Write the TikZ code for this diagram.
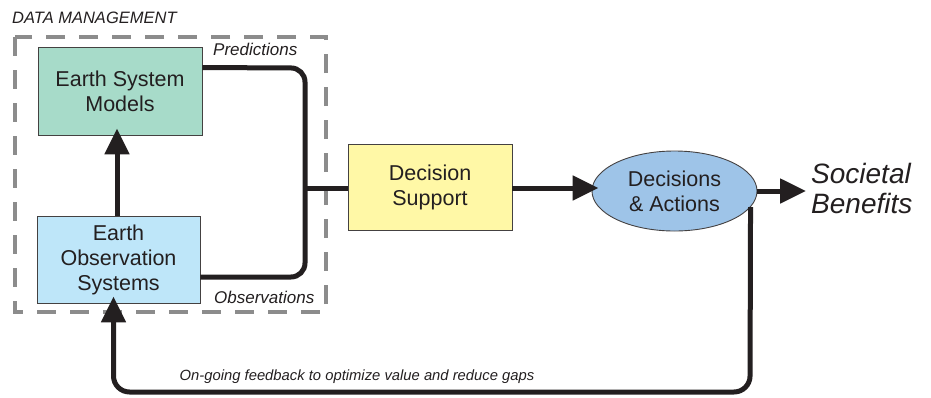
\documentclass[tikz,border=0pt]{standalone}
\usepackage{fontspec}
\setmainfont{Liberation Sans}
\usetikzlibrary{arrows.meta,shapes.geometric}
\definecolor{txt}{HTML}{231F20}
\definecolor{esmfill}{HTML}{A7DBC9}
\definecolor{eosfill}{HTML}{BEE6F9}
\definecolor{dsfill}{HTML}{FFF8A6}
\definecolor{dafill}{HTML}{9EC4E8}
\definecolor{dashgray}{HTML}{8C8C8C}
\tikzset{
  boxnode/.style={draw=txt!85, line width=0.9pt, text=txt, align=center,
    font=\fontsize{21.5}{25}\selectfont, inner sep=0pt},
  conn/.style={draw=txt, line width=5pt},
  arr/.style={-{Triangle[length=26pt,width=24pt]}, shorten >=-7pt},
  smalllabel/.style={font=\fontsize{17}{20}\selectfont\itshape, text=txt, inner sep=0pt}
}
\begin{document}
\begin{tikzpicture}[x=1pt,y=-1pt]
\useasboundingbox (0,0) rectangle (931,397);
% dashed data management frame
\draw[dashgray, line width=3.3pt, dash pattern=on 19pt off 14pt] (15,37) rectangle (326,312);
\node[anchor=base west, font=\fontsize{16.5}{19}\selectfont\itshape, text=txt, inner sep=0pt] (dm) at (12,23) {DATA MANAGEMENT};
% nodes
\node[boxnode, fill=esmfill, minimum width=164pt, minimum height=88pt] (esm) at (120,91) {Earth System\\Models};
\node[boxnode, fill=eosfill, minimum width=163pt, minimum height=87pt] (eos) at (118.5,259.5) {Earth\\Observation\\Systems};
\node[boxnode, fill=dsfill, minimum width=164pt, minimum height=86pt] (ds) at (430,187) {Decision\\Support};
\coordinate (j) at (305,188);
\coordinate (fb) at (750,392);
% connectors
\draw[conn, rounded corners=14pt] ([yshift=-21pt]esm.north east) -- (305,68) -- (305,277) -- (eos.east |- 0,277);
\draw[conn] (j) -- (ds.west |- j);
\draw[conn, arr] ([xshift=-1.5pt]eos.north) -- ([xshift=-1.5pt]eos.north |- esm.south);
\node[boxnode, ellipse, fill=dafill, minimum width=165pt, minimum height=80pt] (da) at (674.5,191) {Decisions\\\& Actions};
\draw[conn, arr] (ds.east |- j) -- (da.west |- j);
\node[anchor=west, align=left, font=\fontsize{28}{30}\selectfont\itshape, text=txt, inner sep=0pt] (sb) at (811,188) {Societal\\Benefits};
\draw[conn, arr] (da.east) -- ([xshift=-12pt]sb.west |- da.east);
\draw[conn, arr, rounded corners=16pt] (da.-12) -- (fb) -- ([xshift=-5pt]eos.south |- fb) -- ([xshift=-5pt]eos.south);
% labels
\node[smalllabel, anchor=base west] (pred) at (213,55) {Predictions};
\node[smalllabel, anchor=base west] (obs) at (214,303) {Observations};
\node[smalllabel, anchor=base, font=\fontsize{14.8}{18}\selectfont\itshape] (fbl) at (357,380) {On-going feedback to optimize value and reduce gaps};
\end{tikzpicture}
\end{document}
